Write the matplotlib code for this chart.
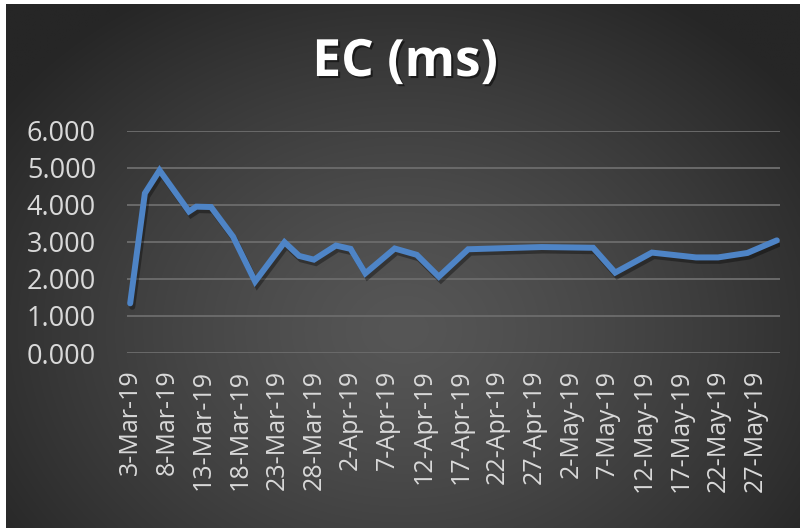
import numpy as np
import matplotlib
matplotlib.use("Agg")
import matplotlib.pyplot as plt
import matplotlib.dates as mdates
import matplotlib.patheffects as pe
import pandas as pd

dates = ["2019-03-03", "2019-03-05", "2019-03-07", "2019-03-11", "2019-03-12",
         "2019-03-14", "2019-03-17", "2019-03-20", "2019-03-24", "2019-03-26",
         "2019-03-28", "2019-03-31", "2019-04-02", "2019-04-04", "2019-04-08",
         "2019-04-11", "2019-04-14", "2019-04-18", "2019-04-28", "2019-05-05",
         "2019-05-08", "2019-05-13", "2019-05-19", "2019-05-22", "2019-05-26",
         "2019-05-30"]
values = [1.34, 4.31, 4.93, 3.82, 3.95,
          3.94, 3.14, 1.93, 2.99, 2.62,
          2.52, 2.90, 2.81, 2.15, 2.82,
          2.65, 2.06, 2.80, 2.86, 2.84,
          2.17, 2.71, 2.58, 2.58, 2.70,
          3.04]
title = "EC (ms)"
tick_start = "2019-03-03"
tick_end = "2019-05-27"
yticks = [0, 1, 2, 3, 4, 5, 6]

W, H = 802, 529
fig = plt.figure(figsize=(W / 100, H / 100), dpi=100)
fig.patch.set_facecolor("white")

# gradient background
bg = fig.add_axes([6 / W, 1 / H, 794 / W, 524 / H])
bg.set_axis_off()
ny, nx = 300, 450
yy, xx = np.mgrid[0:ny, 0:nx]
cx, cy = nx * 0.5, ny * 0.62
r = np.sqrt(((xx - cx) / (nx * 0.62)) ** 2 + ((yy - cy) / (ny * 0.75)) ** 2)
r = np.clip(r, 0, 1)
light, dark = 0x56 / 255, 0x26 / 255
g = light + (dark - light) * r ** 1.3
img = np.dstack([g, g, g])
bg.imshow(img, aspect="auto", extent=[0, 1, 0, 1], interpolation="bilinear")
bg.set_xlim(0, 1)
bg.set_ylim(0, 1)

x = pd.to_datetime(dates)
ax = fig.add_axes([126.5 / W, 1 - 353 / H, (780.5 - 126.5) / W, (353 - 130.7) / H])
ax.patch.set_alpha(0)
ax.plot(x, values, color="#4E84C6", lw=4.3, solid_capstyle="round", solid_joinstyle="miter",
        path_effects=[pe.SimpleLineShadow(offset=(1.5, -2.5), shadow_color="black", alpha=0.35),
                      pe.Normal()], zorder=3)

d0 = pd.Timestamp(dates[0])
d1 = pd.Timestamp(dates[-1])
ax.set_xlim(mdates.date2num(d0) - 0.5, mdates.date2num(d1) + 0.5)
ax.set_ylim(0, 6)
ticks = pd.date_range(tick_start, tick_end, freq="5D")
ax.set_xticks(ticks)
ax.set_xticklabels([f"{t.day}-{t.strftime('%b')}-{t.strftime('%y')}" for t in ticks],
                   rotation=90, fontsize=18, color="#D9D9D9", family="Open Sans")
ax.set_yticks(yticks)
ax.set_yticklabels([f"{v:.3f}" for v in yticks], fontsize=19.5, color="#D9D9D9", family="Open Sans")
ax.tick_params(axis="x", length=0, pad=12)
ax.tick_params(axis="y", length=0, pad=22)
ax.grid(axis="y", color="#6A6A6A", lw=1.4)
ax.set_axisbelow(True)
for s in ax.spines.values():
    s.set_visible(False)

fig.text(405 / W, 1 - 63 / H, title, ha="center", va="center", fontsize=37, fontweight="bold",
         color="white", family="Open Sans",
         path_effects=[pe.withSimplePatchShadow(offset=(1.5, -1.5), shadow_rgbFace="black", alpha=0.5)])

fig.savefig("out.png", dpi=100, facecolor=fig.get_facecolor())
